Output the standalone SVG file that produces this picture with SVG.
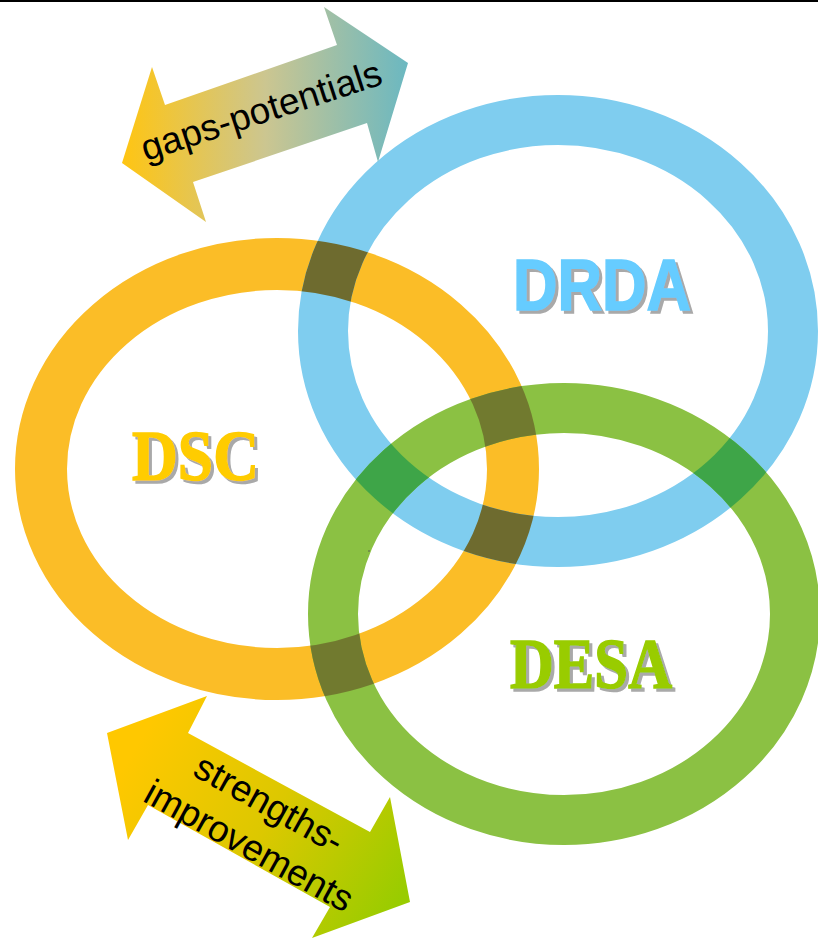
<svg xmlns="http://www.w3.org/2000/svg" width="818" height="940" viewBox="0 0 818 940">
<defs>
<style>
.ring{fill:none}
.lbl{font-weight:bold;font-size:72px;stroke-width:1.6;filter:url(#shadow)}
.arrtxt{font-family:"Liberation Sans",Arial,sans-serif;font-size:37px;fill:#000}
</style>
<filter id="shadow" x="-10%" y="-20%" width="130%" height="150%">
<feFlood flood-color="#A9A9A9"/>
<feComposite in2="SourceAlpha" operator="in"/>
<feOffset dx="3" dy="3" result="s"/>
<feMerge><feMergeNode in="s"/><feMergeNode in="SourceGraphic"/></feMerge>
</filter>
<linearGradient id="gTop" gradientUnits="userSpaceOnUse" x1="122" y1="0" x2="408" y2="0">
<stop offset="0" stop-color="#FFC512"/>
<stop offset="0.5" stop-color="#CCC690"/>
<stop offset="1" stop-color="#6BB8C1"/>
</linearGradient>
<linearGradient id="gBot" gradientUnits="userSpaceOnUse" x1="140" y1="740" x2="400" y2="900">
<stop offset="0" stop-color="#FFC800"/>
<stop offset="0.5" stop-color="#DCC800"/>
<stop offset="1" stop-color="#99CC00"/>
</linearGradient>
<mask id="mY" maskUnits="userSpaceOnUse" x="0" y="0" width="818" height="940">
<ellipse cx="277" cy="469" rx="236" ry="205" fill="none" stroke="#fff" stroke-width="52"/>
</mask>
<mask id="mB" maskUnits="userSpaceOnUse" x="0" y="0" width="818" height="940">
<ellipse cx="558" cy="331" rx="235" ry="211" fill="none" stroke="#fff" stroke-width="50"/>
</mask>
</defs>
<rect x="0" y="0" width="818" height="940" fill="#fff"/>
<rect x="0" y="0" width="818" height="2" fill="#000"/>

<g id="ring-dsc">
<ellipse class="ring" cx="277" cy="469" rx="236" ry="205" stroke="#FBBD27" stroke-width="52"/>
</g>
<g id="ring-drda">
<ellipse class="ring" cx="558" cy="331" rx="235" ry="211" stroke="#7FCDEF" stroke-width="50"/>
</g>
<g id="ring-desa">
<ellipse class="ring" cx="564" cy="614" rx="231" ry="206" stroke="#8BC143" stroke-width="50"/>
</g>
<g id="overlaps">
<ellipse class="ring" cx="558" cy="331" rx="235" ry="211" stroke="#6E6B2F" stroke-width="50" mask="url(#mY)"/>
<ellipse class="ring" cx="564" cy="614" rx="231" ry="206" stroke="#717A2F" stroke-width="50" mask="url(#mY)"/>
<ellipse class="ring" cx="564" cy="614" rx="231" ry="206" stroke="#3EA548" stroke-width="50" mask="url(#mB)"/>
</g>

<g id="label-drda">
<text class="lbl" x="513" y="310" textLength="178" lengthAdjust="spacingAndGlyphs" font-family="Liberation Sans, Arial, sans-serif" fill="#66CCFF" stroke="#66CCFF">DRDA</text>
</g>
<g id="label-dsc">
<text class="lbl" x="132" y="480" textLength="127" lengthAdjust="spacingAndGlyphs" font-family="Liberation Serif, Times New Roman, serif" fill="#FFCC00" stroke="#FFCC00">DSC</text>
</g>
<g id="label-desa">
<text class="lbl" x="510" y="688" textLength="162" lengthAdjust="spacingAndGlyphs" font-family="Liberation Serif, Times New Roman, serif" fill="#99CC00" stroke="#99CC00">DESA</text>
</g>

<g id="arrow-gaps">
<polygon points="122,163 152,67 165,105 337,45 324,7 408,63 378,162 367,123 193,182 206,222" fill="url(#gTop)"/>
<g transform="translate(262,113) rotate(-18)">
<text class="arrtxt" x="0" y="10" text-anchor="middle">gaps-potentials</text>
</g>
</g>

<g id="arrow-strengths">
<polygon points="107,733 207,696 188,733 370,832 390,797 410,902 312,938 330,907 148,805 128,840" fill="url(#gBot)"/>
<g transform="translate(268,806) rotate(29)">
<text class="arrtxt" x="0" y="10" text-anchor="middle">strengths-</text>
</g>
<g transform="translate(248,848) rotate(29)">
<text class="arrtxt" x="0" y="10" text-anchor="middle">improvements</text>
</g>
</g>
<circle cx="369" cy="551" r="0.8" fill="#555"/>
</svg>
